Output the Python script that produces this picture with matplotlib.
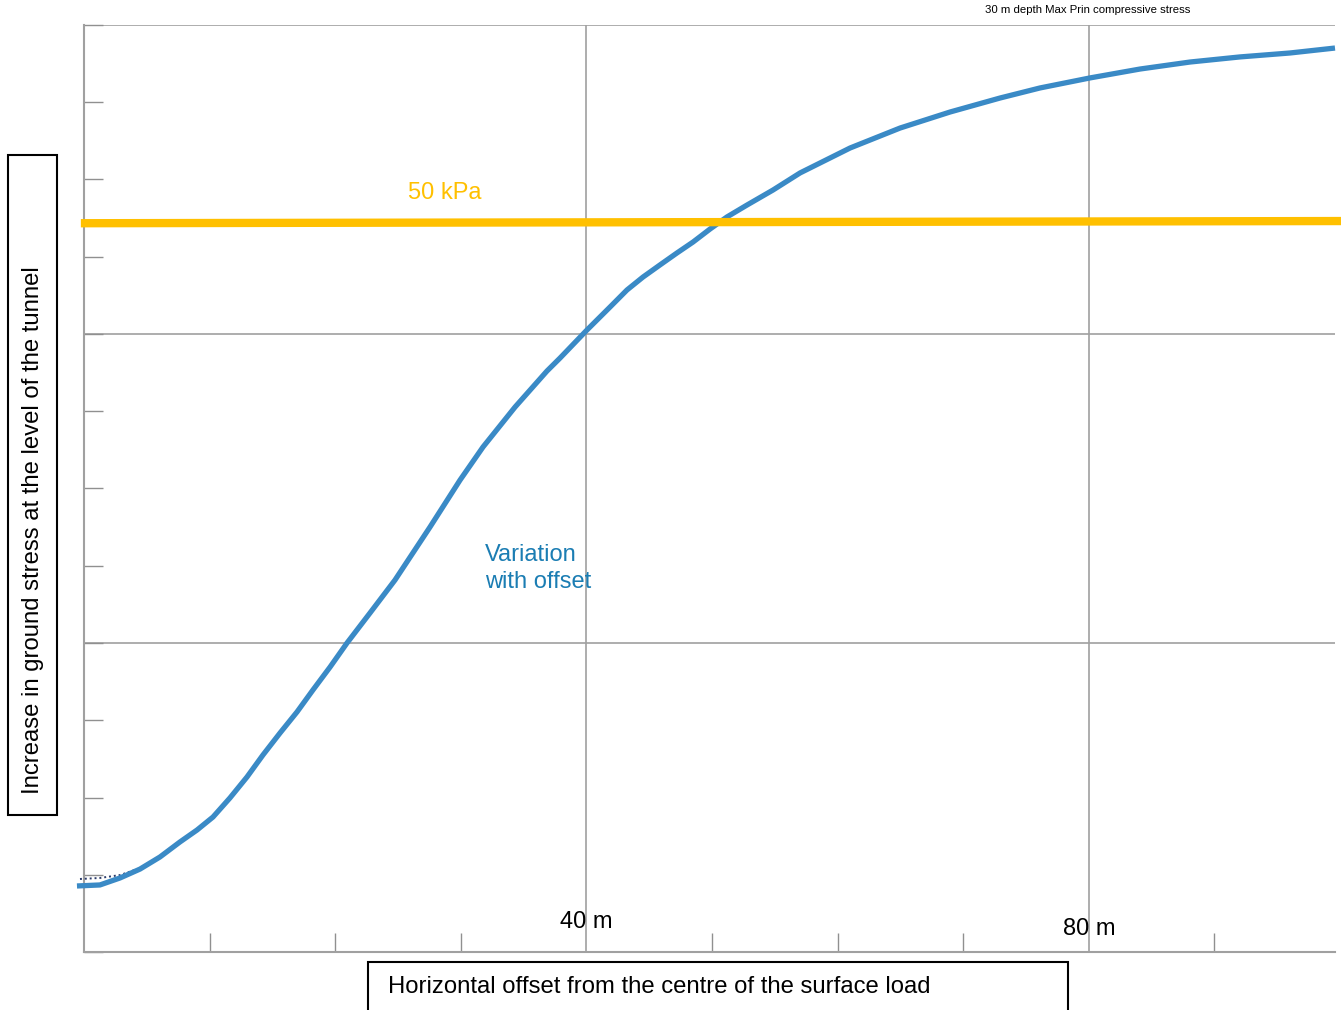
import numpy as np
import matplotlib.pyplot as plt
from matplotlib.patches import Rectangle

# horizontal offset (m) and increase in stress (kPa)
offset_m = [-0.56, 1.27, 2.87, 4.46, 6.05, 7.64, 9.00, 10.27, 11.62, 12.98, 14.25,
            15.61, 16.96, 18.23, 19.59, 20.94, 22.77, 24.76, 27.55, 29.94, 31.77,
            34.32, 36.86, 37.90, 40.05, 41.88, 43.23, 44.51, 45.86, 47.21, 48.49,
            49.84, 51.19, 52.79, 54.86, 57.01, 60.99, 64.97, 68.95, 72.93, 76.11,
            80.10, 84.08, 88.06, 92.04, 96.02, 99.60]
stress_kpa = [4.53, 4.60, 5.08, 5.69, 6.52, 7.55, 8.37, 9.26, 10.57, 12.01, 13.52,
              15.03, 16.47, 17.98, 19.55, 21.20, 23.26, 25.52, 29.16, 32.38, 34.65,
              37.39, 39.86, 40.75, 42.68, 44.25, 45.42, 46.31, 47.14, 47.96, 48.71,
              49.60, 50.43, 51.25, 52.28, 53.45, 55.16, 56.53, 57.63, 58.59, 59.28,
              59.97, 60.58, 61.06, 61.41, 61.68, 62.02]
# thin dotted companion series, only visible where it leaves the main curve
dotted_m = [-0.32, 1.27, 2.87, 4.46, 6.05]
dotted_kpa = [5.01, 5.08, 5.28, 5.75, 6.55]

limit_x = [-0.25, 100.1]
limit_kpa = [50.0, 50.15]

x_major = [0, 40, 80]
x_minor = [10, 20, 30, 50, 60, 70, 90]
y_step = 5.3
y_top = 63.6

plt.rcParams['font.family'] = ['Liberation Sans', 'DejaVu Sans']

fig = plt.figure(figsize=(13.41, 10.10), dpi=100)
ax = fig.add_axes([84/1341, 58/1010, (1335-84)/1341, (952-25)/1010])

ax.set_xlim(0, 99.6)
ax.set_ylim(0, y_top)

ax.plot(dotted_m, dotted_kpa, color='#2a3a6a', lw=1.4, ls=(0, (1, 1.5)), clip_on=False, zorder=3)
ax.plot(offset_m, stress_kpa, color='#3a8ac6', lw=3.8, clip_on=False, zorder=4,
        solid_capstyle='butt', solid_joinstyle='round')
ax.plot(limit_x, limit_kpa, color='#FFC000', lw=6, clip_on=False, zorder=5,
        solid_capstyle='butt')

ax.set_xticks(x_major)
ax.set_xticks(x_minor, minor=True)
ax.set_yticks(np.arange(0, y_top + 0.1, 4 * y_step))
ax.set_yticks(np.arange(0, y_top + 0.1, y_step), minor=True)
ax.tick_params(which='both', direction='in', length=14, width=1, color='#909090',
               labelbottom=False, labelleft=False)
ax.tick_params(axis='x', which='major', length=0)
ax.grid(True, which='major', color='#a0a0a0', lw=1.2)
for s in ['right', 'top']:
    ax.spines[s].set_visible(False)
for s in ['left', 'bottom']:
    ax.spines[s].set_color('#a0a0a0')
    ax.spines[s].set_linewidth(1.5)

ax.text(40, 2.08, '40 m', fontsize=17, ha='center', va='center')
ax.text(80, 1.58, '80 m', fontsize=17, ha='center', va='center')
ax.text(25.8, 52.1, '50 kPa', fontsize=17, color='#FFC000', ha='left', va='center')
ax.text(31.9, 26.3, 'Variation\nwith offset', fontsize=17, color='#1b7db3',
        ha='left', va='center', linespacing=1.3)

fig.text(1088/1341, 1 - 10/1010, '30 m depth Max Prin compressive stress',
         fontsize=8.2, ha='center', va='center')

fig.add_artist(Rectangle((8/1341, 1 - 815/1010), 49/1341, 660/1010, transform=fig.transFigure,
                         fill=False, ec='black', lw=1.5))
fig.text(33/1341, 1 - 530/1010, 'Increase in ground stress at the level of the tunnel',
         rotation=90, fontsize=17.2, ha='center', va='center')

fig.add_artist(Rectangle((368/1341, -2/1010), 700/1341, 50/1010, transform=fig.transFigure,
                         fill=False, ec='black', lw=1.5, clip_on=False))
fig.text(388/1341, 1 - 987/1010, 'Horizontal offset from the centre of the surface load',
         fontsize=17.2, ha='left', va='center')

plt.savefig('out.png', dpi=100)
